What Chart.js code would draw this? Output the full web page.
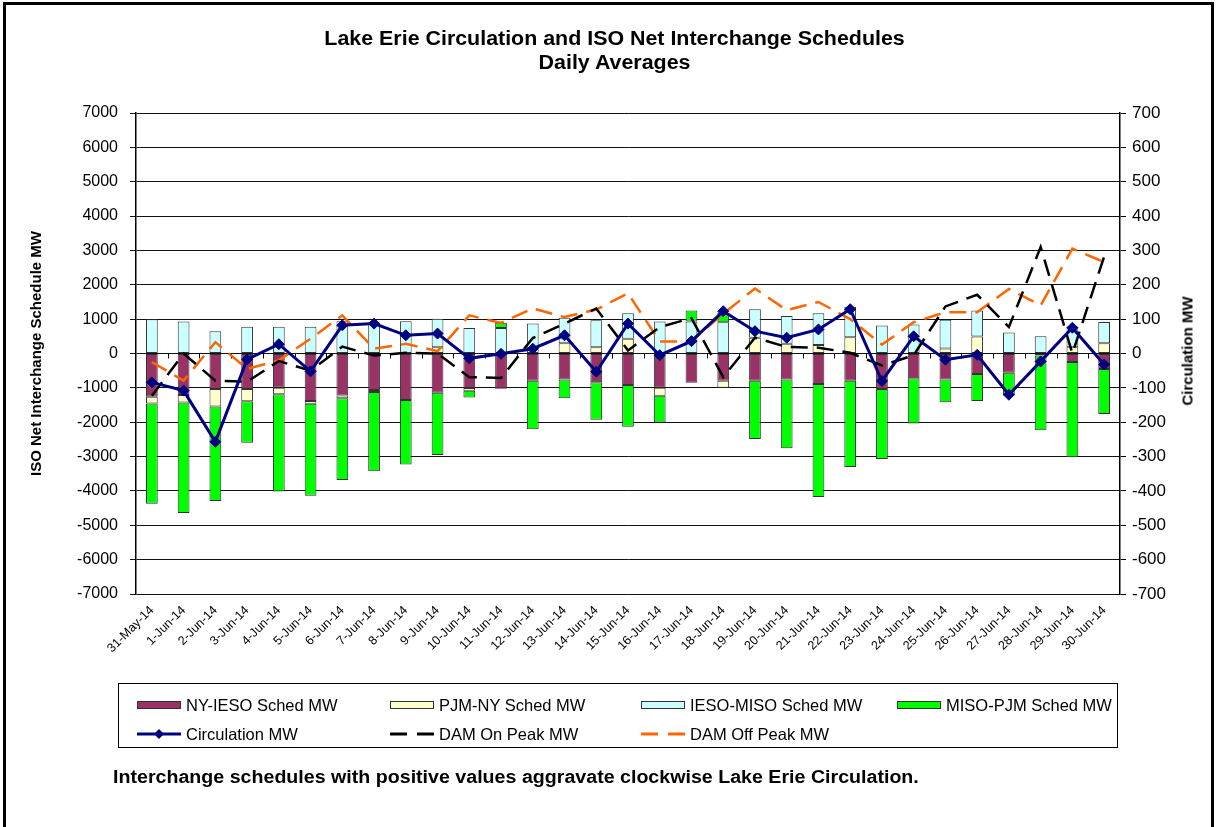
<!DOCTYPE html>
<html>
<head>
<meta charset="utf-8">
<script src="https://cdn.jsdelivr.net/npm/chart.js@4.4.0/dist/chart.umd.min.js"></script>
<style>
html,body{margin:0;padding:0;background:#fff;width:1219px;height:827px;overflow:hidden;font-family:"Liberation Sans",Arial,sans-serif;color:#000;}
#frame{position:absolute;left:3px;top:2px;width:1211px;height:900px;border:3px solid #000;box-sizing:border-box;}
#cv{position:absolute;left:0;top:0;}
#title{position:absolute;left:0;top:26px;width:1229px;text-align:center;font-weight:bold;font-size:20px;line-height:24px;transform:scaleX(1.07);transform-origin:614px 0;}
#rtitle{position:absolute;left:1187px;top:351px;transform:translate(-50%,-50%) rotate(-90deg);font-weight:bold;font-size:15px;white-space:nowrap;}
#legend{position:absolute;left:118px;top:683px;width:1000px;height:65px;border:1.5px solid #000;box-sizing:border-box;}
.li{position:absolute;height:16px;display:flex;align-items:center;font-size:16.5px;white-space:nowrap;}
.li svg{margin-right:5px;}
#note{position:absolute;left:113px;top:767px;font-weight:bold;font-size:18px;white-space:nowrap;transform:scaleX(1.09);transform-origin:0 0;}
</style>
</head>
<body>
<div id="frame"></div>
<canvas id="cv" width="1219" height="827"></canvas>
<div id="title">Lake Erie Circulation and ISO Net Interchange Schedules<br>Daily Averages</div>
<div id="rtitle">Circulation MW</div>
<div id="legend"></div>
<div id="note">Interchange schedules with positive values aggravate clockwise Lake Erie Circulation.</div>
<script>
const categories = ['31-May-14','1-Jun-14','2-Jun-14','3-Jun-14','4-Jun-14','5-Jun-14','6-Jun-14','7-Jun-14','8-Jun-14','9-Jun-14','10-Jun-14','11-Jun-14','12-Jun-14','13-Jun-14','14-Jun-14','15-Jun-14','16-Jun-14','17-Jun-14','18-Jun-14','19-Jun-14','20-Jun-14','21-Jun-14','22-Jun-14','23-Jun-14','24-Jun-14','25-Jun-14','26-Jun-14','27-Jun-14','28-Jun-14','29-Jun-14','30-Jun-14'];

const nyIeso   = [-1260,-1210,-1030,-1030,-1000,-1380,-1220,-1060,-1350,-1140,-1005,-1025,-790,-760,-840,-920,-995,-850,-790,-790,-760,-890,-790,-1030,-720,-760,-600,-560,-60,-250,-450];
const pjmNy    = [-195,-215,-510,-360,-185,-80,-80,-60,0,185,-80,0,0,300,185,430,-235,0,-205,460,285,245,470,0,0,145,495,0,0,185,300];
const iesoMiso = [1000,930,650,780,780,780,940,900,940,830,740,740,870,740,780,740,930,930,913,830,810,930,890,815,845,835,760,610,505,600,620];
const misoPjm  = [-2920,-3220,-2750,-1210,-2830,-2680,-2380,-2310,-1880,-1815,-195,155,-1415,-540,-1090,-1210,-780,320,275,-1700,-2000,-3290,-2510,-2040,-1320,-660,-780,-660,-2175,-2770,-1310];

const circulation = [-84,-108,-257,-17,27,-52,82,87,53,58,-14,-1,14,53,-53,87,-5,36,123,65,46,70,129,-80,50,-18,-4,-120,-23,75,-32];
const damOnPeak   = [-123,0,-79,-82,-22,-50,20,-6,2,0,-69,-71,45,87,131,9,77,103,-69,46,19,17,2,-35,-5,137,171,77,310,0,282];
const damOffPeak  = [-25,-79,33,-45,-20,43,111,14,28,7,111,89,131,106,128,175,35,35,116,189,126,150,100,26,91,120,120,188,140,305,266];

const leftAxisRange  = [-7000, 7000, 1000];
const rightAxisRange = [-700, 700, 100];

const seriesNames = ['NY-IESO Sched MW','PJM-NY Sched MW','IESO-MISO Sched MW','MISO-PJM Sched MW','Circulation MW','DAM On Peak MW','DAM Off Peak MW'];
const barColors = ['#993366','#FFFFCC','#CCFFFF','#00FF00'];

Chart.defaults.font.family = '"Liberation Sans", Arial, sans-serif';
Chart.defaults.color = '#000';

const zeroTicks = {
  id: 'zeroTicks',
  beforeDatasetsDraw(chart) {
    const x = chart.scales.x, y = chart.scales.y, ctx = chart.ctx;
    const y0 = y.getPixelForValue(0);
    ctx.save();
    ctx.strokeStyle = '#000';
    ctx.lineWidth = 1;
    ctx.beginPath();
    for (let i = 1; i < categories.length; i++) {
      const px = Math.round((x.getPixelForValue(i) + x.getPixelForValue(i - 1)) / 2) + 0.5;
      ctx.moveTo(px, y0);
      ctx.lineTo(px, y0 + 5);
    }
    ctx.stroke();
    ctx.restore();
  }
};

const barCommon = {stack: 's', order: 3, borderColor: '#333', borderWidth: 1, borderSkipped: false, barPercentage: 0.37, categoryPercentage: 1};

new Chart(document.getElementById('cv'), {
  type: 'bar',
  data: {
    labels: categories,
    datasets: [
      {type: 'line', label: seriesNames[4], data: circulation, yAxisID: 'y1', borderColor: '#000080', backgroundColor: '#000080', borderWidth: 3, pointStyle: 'rectRot', pointRadius: 5.5, pointBorderWidth: 1, pointBorderColor: '#000080', tension: 0, order: 0},
      {type: 'line', label: seriesNames[5], data: damOnPeak, yAxisID: 'y1', borderColor: '#000', borderWidth: 2.5, borderDash: [17, 9], pointRadius: 0, tension: 0, order: 1},
      {type: 'line', label: seriesNames[6], data: damOffPeak, yAxisID: 'y1', borderColor: '#FF6600', borderWidth: 2.5, borderDash: [17, 9], pointRadius: 0, tension: 0, order: 2},
      Object.assign({label: seriesNames[0], data: nyIeso, backgroundColor: barColors[0]}, barCommon),
      Object.assign({label: seriesNames[1], data: pjmNy, backgroundColor: barColors[1]}, barCommon),
      Object.assign({label: seriesNames[2], data: iesoMiso, backgroundColor: barColors[2]}, barCommon),
      Object.assign({label: seriesNames[3], data: misoPjm, backgroundColor: barColors[3]}, barCommon)
    ]
  },
  options: {
    responsive: false,
    animation: false,
    layout: {padding: {left: 26, right: 20, top: 113, bottom: 153}},
    plugins: {legend: {display: false}, tooltip: {enabled: false}, title: {display: false}},
    scales: {
      x: {
        stacked: true,
        grid: {display: false},
        border: {display: false},
        ticks: {autoSkip: false, maxRotation: 45, minRotation: 45, font: {size: 12.5}, color: '#000', padding: 1},
        afterFit(s) { s.height = 80; }
      },
      y: {
        stacked: true,
        position: 'left',
        min: leftAxisRange[0], max: leftAxisRange[1],
        ticks: {stepSize: leftAxisRange[2], font: {size: 16}, color: '#000', padding: 12, callback: v => String(v)},
        grid: {color: '#111', lineWidth: 1, tickLength: 6},
        border: {color: '#000', width: 1.5},
        title: {display: true, text: 'ISO Net Interchange Schedule MW', font: {size: 15, weight: 'bold'}, color: '#000', padding: {top: 2, bottom: 0}},
        afterFit(s) { s.width = 110; }
      },
      y1: {
        position: 'right',
        min: rightAxisRange[0], max: rightAxisRange[1],
        ticks: {stepSize: rightAxisRange[2], font: {size: 17}, color: '#000', padding: 6, callback: v => String(v)},
        grid: {drawOnChartArea: false, color: '#000', tickLength: 6},
        border: {color: '#000', width: 1.5},
        afterFit(s) { s.width = 79; }
      }
    }
  },
  plugins: [zeroTicks]
});

// HTML legend
const legend = document.getElementById('legend');
const legendPos = [[18, 21], [271, 21], [522, 21], [778, 21], [18, 50], [271, 50], [522, 50]];
function swatch(i) {
  if (i < 4) {
    return '<svg width="44" height="10"><rect x="0.5" y="1.5" width="43" height="7" fill="' + barColors[i] + '" stroke="#333" stroke-width="1"/></svg>';
  }
  if (i === 4) {
    return '<svg width="44" height="12"><line x1="0" y1="6" x2="44" y2="6" stroke="#000080" stroke-width="3"/><path d="M22 1 L27 6 L22 11 L17 6 Z" fill="#000080"/></svg>';
  }
  const c = i === 5 ? '#000' : '#FF6600';
  return '<svg width="44" height="12"><line x1="0" y1="6" x2="17" y2="6" stroke="' + c + '" stroke-width="3"/><line x1="27" y1="6" x2="44" y2="6" stroke="' + c + '" stroke-width="3"/></svg>';
}
seriesNames.forEach((n, i) => {
  const d = document.createElement('div');
  d.className = 'li';
  d.style.left = legendPos[i][0] + 'px';
  d.style.top = (legendPos[i][1] - 8) + 'px';
  d.innerHTML = swatch(i) + '<span>' + n + '</span>';
  legend.appendChild(d);
});
</script>
</body>
</html>
